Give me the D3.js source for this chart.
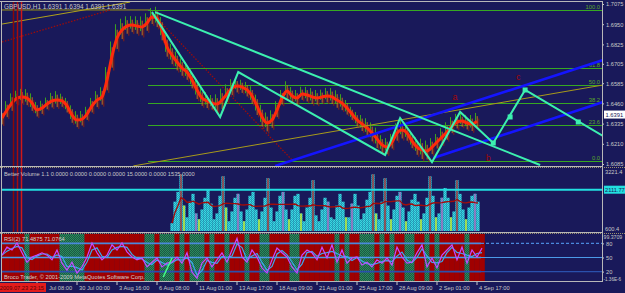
<!DOCTYPE html>
<html>
<head>
<meta charset="utf-8">
<script src="https://cdn.jsdelivr.net/npm/d3@7"></script>
<style>
  html, body { margin: 0; padding: 0; background: #19195a; overflow: hidden; }
  svg { display: block; }
  text { font-family: "Liberation Sans", Arial, sans-serif; }
</style>
</head>
<body>
<div id="d3-container"></div>
<script>
/**
 * CONSTANTS AND GLOBALS
 * */
const width = 625,
  height = 293,
  plotLeft = 2,
  plotRight = 602;

const panel = {
  price: { top: 2, bottom: 166 },
  volume: { top: 168, bottom: 232 },
  rsi: { top: 234, bottom: 281 },
};

/**
 * DATA (H1 bars, x is the bar index from the left edge)
 * */
// smoothed price (thick red line), one value every 8 bars
const maPrice = [
  1.6370, 1.6419, 1.6462, 1.6493, 1.6500, 1.6493, 1.6462, 1.6419, 1.6431, 1.6456,
  1.6475, 1.6481, 1.6475, 1.6444, 1.6388, 1.6357, 1.6363, 1.6394, 1.6444, 1.6481,
  1.6500, 1.6605, 1.6753, 1.6865, 1.6914, 1.6939, 1.6945, 1.6939, 1.6933, 1.6957,
  1.6995, 1.6988, 1.6914, 1.6809, 1.6759, 1.6716, 1.6679, 1.6654, 1.6605, 1.6543,
  1.6493, 1.6475, 1.6462, 1.6456, 1.6481, 1.6518, 1.6555, 1.6568, 1.6561, 1.6543,
  1.6506, 1.6444, 1.6376, 1.6339, 1.6357, 1.6419, 1.6493, 1.6537, 1.6506, 1.6493,
  1.6518, 1.6512, 1.6500, 1.6493, 1.6500, 1.6506, 1.6500, 1.6481, 1.6462, 1.6431,
  1.6394, 1.6357, 1.6333, 1.6308, 1.6277, 1.6240, 1.6203, 1.6190, 1.6221, 1.6277,
  1.6295, 1.6277, 1.6227, 1.6190, 1.6172, 1.6165, 1.6190, 1.6221, 1.6252, 1.6283,
  1.6320, 1.6345, 1.6351, 1.6339, 1.6333, 1.6351
];
// candle range around the smoothed price, in pips
const swingPips = [
  50, 55, 60, 45, 50, 55, 60, 50, 45, 40, 50, 55, 45, 50, 60, 55, 50, 45, 50, 55,
  60, 80, 90, 85, 70, 60, 55, 60, 65, 60, 55, 70, 80, 75, 70, 65, 60, 60, 65, 70,
  60, 55, 50, 60, 70, 60, 55, 50, 45, 50, 60, 70, 75, 65, 60, 55, 50, 60, 55, 50,
  45, 50, 55, 50, 45, 50, 55, 60, 55, 50, 45, 50, 55, 60, 65, 70, 60, 55, 50, 60,
  65, 60, 55, 60, 70, 65, 55, 50, 55, 60, 55, 50, 45, 50, 55, 50
];
const lastPrice = 1.6391;

// Better Volume, one value every 4.8 bars from bar 272
const volume = [
  400, 1500, 2000, 2900, 1300, 700, 1500, 1900, 900, 600,
  1100, 1700, 2100, 1400, 600, 900, 1800, 2800, 1200, 500,
  1000, 1700, 1900, 1000, 500, 1100, 1800, 2000, 1100, 600,
  1000, 1700, 2700, 1200, 500, 1000, 1800, 2000, 1100, 600,
  1100, 1800, 1900, 900, 500, 1200, 1700, 2600, 800, 500,
  1100, 1700, 1500, 700, 600, 1300, 1900, 1500, 700, 700,
  1400, 1900, 1300, 600, 900, 1600, 2000, 2900, 900, 600,
  1500, 2700, 1300, 600, 1100, 1800, 2000, 1200, 500, 1000,
  1600, 1900, 1500, 600, 900, 1700, 2800, 1800, 700, 900,
  1700, 2200, 1700, 700, 1000, 2600, 1900, 1100, 600, 1200,
  1800, 1900, 1500
];
const volStartBar = 272, volStepBars = 4.8;
const volYellow = [4, 9, 18, 24, 29, 39, 43, 58, 68, 73, 78, 83, 88, 93, 98];
const volRed = [3, 17, 32, 47, 67, 71, 86, 95];
const volMagenta = [8, 22, 37, 52, 60, 76, 90, 101];
const volLevel = 2111.77;

// RSI(2), one value every 8 bars
const rsi = [
  55, 72, 66, 81, 60, 40, 51, 55, 60, 55,
  45, 66, 38, 23, 40, 17, 30, 51, 81, 60,
  45, 55, 77, 66, 81, 62, 51, 45, 49, 30,
  40, 49, 30, 38, 40, 51, 38, 60, 19, 6,
  38, 49, 30, 45, 60, 40, 66, 91, 51, 40,
  66, 51, 28, 17, 45, 70, 60, 51, 30, 17,
  55, 66, 60, 45, 72, 49, 77, 40, 66, 38,
  49, 51, 34, 40, 30, 45, 38, 49, 34, 72,
  51, 38, 40, 60, 77, 30, 49, 28, 55, 66,
  77, 45, 72, 38, 66, 51, 70
];
const rsiLevels = [80, 50, 20];

// axis ticks
const priceTicks = [1.7075, 1.6950, 1.6825, 1.6705, 1.6585, 1.6460, 1.6335, 1.6210, 1.6085];
const tickBars = [56, 120, 184, 248, 312, 376, 440, 504, 568, 632, 696, 760];
const tickLabels = ["Jul 08:00", "30 Jul 00:00", "3 Aug 16:00", "6 Aug 08:00", "11 Aug 01:00",
  "13 Aug 17:00", "18 Aug 09:00", "21 Aug 01:00", "25 Aug 17:00", "28 Aug 09:00", "2 Sep 01:00", "4 Sep 17:00"];

// fibonacci retracement
const fibLevels = [100, 61.8, 50, 38.2, 23.6, 0];
const fibLabels = ["100.0", "61.8", "50.0", "38.2", "23.6", "0.0"];
const fibLow = 1.6104, fibHigh = 1.7038, fibStartBar = 234;

// drawn objects: [bar, price]
const zigzag = [[240, 1.7025], [349, 1.6376], [378, 1.6654], [613, 1.6141], [637, 1.6370],
  [688, 1.6097], [733, 1.6407], [786, 1.6215], [837, 1.6543], [962, 1.6258]];
const zigNodes = [[786, 1.6215], [813, 1.6376], [837, 1.6543], [922, 1.6345]];
const trendLine = [[245, 1.7025], [861, 1.6079]];
const blueUpper = [[437, 1.6073], [962, 1.6728]];
const blueLower = [[690, 1.6122], [962, 1.6469]];
const yellowLine = [[210, 1.6073], [962, 1.6574]];
const yellowTop = [[0, 1.7038], [237, 1.7038]];
const yellowDiag = [[0, 1.6951], [205, 1.7087]];
const dotLineA = [[0, 1.6840], [173, 1.7038]];
const dotLineB = [[240, 1.7019], [464, 1.6110]];
const waveMarks = [
  { label: "a", bar: 725, price: 1.6481 },
  { label: "b", bar: 778, price: 1.6104 },
  { label: "c", bar: 826, price: 1.6605 },
];
const markerBars = [18, 24, 30];
const rsiTrend = [[258, 8.5], [272, 49]];

/**
 * SCALES
 * */
const xScale = d3.scaleLinear().domain([0, 64]).range([plotLeft, plotLeft + 40]);
const yPrice = d3.scaleLinear().domain([1.6085, 1.7075]).range([164, 4]);
const yVol = d3.scaleLinear().domain([0, 3221.4]).range([231, 168]);
const yRsi = d3.scaleLinear().domain([0, 100]).range([281, 234]);

let svg;

function lineGen(xs, ys) {
  return d3.line().x(d => xs(d[0])).y(d => ys(d[1]));
}

function init() {
  svg = d3.select("#d3-container")
    .append("svg")
    .attr("width", width)
    .attr("height", height);

  svg.append("rect").attr("width", width).attr("height", height).attr("fill", "#19195a");

  const defs = svg.append("defs");
  Object.entries(panel).forEach(([k, p]) => {
    defs.append("clipPath").attr("id", "clip-" + k)
      .append("rect")
      .attr("x", plotLeft).attr("y", p.top)
      .attr("width", plotRight - plotLeft).attr("height", p.bottom - p.top);
  });
  const pat = defs.append("pattern").attr("id", "greenDither")
    .attr("width", 2).attr("height", 2).attr("patternUnits", "userSpaceOnUse");
  pat.append("rect").attr("width", 2).attr("height", 2).attr("fill", "#1b5a44");
  pat.append("rect").attr("width", 1).attr("height", 1).attr("fill", "#2c8c5c");
  pat.append("rect").attr("x", 1).attr("y", 1).attr("width", 1).attr("height", 1).attr("fill", "#2c8c5c");
  const vpat = defs.append("pattern").attr("id", "cyanDither")
    .attr("width", 2).attr("height", 2).attr("patternUnits", "userSpaceOnUse");
  vpat.append("rect").attr("width", 2).attr("height", 2).attr("fill", "#1fa6c0");
  vpat.append("rect").attr("width", 1).attr("height", 1).attr("fill", "#3fd8e0");
  vpat.append("rect").attr("x", 1).attr("y", 1).attr("width", 1).attr("height", 1).attr("fill", "#3fd8e0");

  drawPrice();
  drawVolume();
  drawRsi();
  drawFrame();
}

/**
 * PRICE PANEL
 * */
function drawPrice() {
  const g = svg.append("g").attr("clip-path", "url(#clip-price)");
  const pl = lineGen(xScale, yPrice);

  // old objects on the left
  g.append("path").attr("d", pl(yellowTop)).attr("stroke", "#9c9614").attr("fill", "none");
  g.append("path").attr("d", pl(yellowDiag)).attr("stroke", "#b0a21c").attr("fill", "none");
  [dotLineA, dotLineB].forEach(l => {
    g.append("path").attr("d", pl(l)).attr("stroke", "#9a0c0c")
      .attr("stroke-dasharray", "1.5,1.5").attr("stroke-width", 1.3).attr("fill", "none");
  });

  // fibonacci
  const fibPrice = lv => fibLow + (fibHigh - fibLow) * lv / 100;
  g.selectAll("line.fib")
    .data(fibLevels)
    .join("line")
    .attr("class", "fib")
    .attr("x1", xScale(fibStartBar)).attr("x2", plotRight)
    .attr("y1", d => Math.round(yPrice(fibPrice(d))) + 0.5)
    .attr("y2", d => Math.round(yPrice(fibPrice(d))) + 0.5)
    .attr("shape-rendering", "crispEdges")
    .attr("stroke", "#36a822");
  g.selectAll("text.fib")
    .data(fibLevels)
    .join("text")
    .attr("class", "fib")
    .attr("x", plotRight - 2)
    .attr("y", d => yPrice(fibPrice(d)) - 1)
    .attr("text-anchor", "end")
    .attr("font-size", 5.8)
    .attr("fill", "#5aa82a")
    .text((d, i) => fibLabels[i]);

  // candles around the smoothed price
  const cg = g.append("g");
  maPrice.forEach((p, k) => {
    const xc = xScale(8 * k), s = swingPips[k] / 10000;
    cg.append("line").attr("x1", xc - 1.5).attr("x2", xc - 1.5)
      .attr("y1", yPrice(p + s)).attr("y2", yPrice(p - s * 0.4))
      .attr("stroke", "#3aa01e").attr("stroke-width", 1);
    cg.append("line").attr("x1", xc + 0.2).attr("x2", xc + 0.2)
      .attr("y1", yPrice(p + s * 0.6)).attr("y2", yPrice(p - s * 0.8))
      .attr("stroke", "#c87018").attr("stroke-width", 1);
    cg.append("line").attr("x1", xc + 1.8).attr("x2", xc + 1.8)
      .attr("y1", yPrice(p + s * 0.3)).attr("y2", yPrice(p - s))
      .attr("stroke", "#8a2010").attr("stroke-width", 1);
  });

  g.append("path")
    .datum(maPrice.map((p, k) => [8 * k, p]))
    .attr("d", lineGen(xScale, yPrice).curve(d3.curveMonotoneX))
    .attr("stroke", "#ff2a0c").attr("stroke-width", 3).attr("fill", "none");

  // channel and trend lines
  g.append("path").attr("d", pl(yellowLine)).attr("stroke", "#a89a1a").attr("fill", "none");
  [blueUpper, blueLower].forEach(l => {
    g.append("path").attr("d", pl(l)).attr("stroke", "#1414ff").attr("stroke-width", 2.6).attr("fill", "none");
  });
  g.append("path").attr("d", pl(trendLine)).attr("stroke", "#3cf0b0").attr("stroke-width", 2).attr("fill", "none");
  g.append("path").attr("d", pl(zigzag)).attr("stroke", "#3cf0b0").attr("stroke-width", 2)
    .attr("stroke-linejoin", "miter").attr("fill", "none");
  g.selectAll("rect.node")
    .data(zigNodes)
    .join("rect")
    .attr("class", "node")
    .attr("x", d => xScale(d[0]) - 2.5).attr("y", d => yPrice(d[1]) - 2.5)
    .attr("width", 5).attr("height", 5)
    .attr("fill", "#3cf0b0");

  g.selectAll("text.wave")
    .data(waveMarks)
    .join("text")
    .attr("class", "wave")
    .attr("x", d => xScale(d.bar)).attr("y", d => yPrice(d.price))
    .attr("text-anchor", "middle")
    .attr("font-size", 9)
    .attr("fill", "#a00808")
    .text(d => d.label);

  // vertical markers through price and volume
  svg.selectAll("line.marker")
    .data(markerBars)
    .join("line")
    .attr("class", "marker")
    .attr("x1", d => Math.round(xScale(d)) + 0.5).attr("x2", d => Math.round(xScale(d)) + 0.5)
    .attr("y1", panel.price.top).attr("y2", panel.volume.bottom)
    .attr("stroke-width", 1.5)
    .attr("stroke", (d, i) => i === 0 ? "#8a0808" : (i === 1 ? "#a80c0c" : "#d01818"));

  svg.append("text")
    .attr("x", 4).attr("y", 9)
    .attr("font-size", 6.4)
    .attr("fill", "#c8c8c8")
    .text("GBPUSD,H1  1.6391 1.6394 1.6391 1.6391");

  // right price axis
  const ax = svg.append("g")
    .attr("transform", `translate(${plotRight},0)`)
    .call(d3.axisRight(yPrice).tickValues(priceTicks).tickFormat(d3.format(".4f")).tickSize(2));
  styleAxis(ax);

  const yb = yPrice(lastPrice);
  svg.append("rect").attr("x", 604).attr("y", yb - 4).attr("width", 21).attr("height", 8)
    .attr("fill", "#ffffff");
  svg.append("text").attr("x", 605.5).attr("y", yb + 2.2)
    .attr("font-size", 5.8).attr("fill", "#19195a").text(lastPrice.toFixed(4));
}

/**
 * VOLUME PANEL
 * */
function drawVolume() {
  const g = svg.append("g").attr("clip-path", "url(#clip-volume)");
  const vx = k => xScale(volStartBar + volStepBars * k);

  g.selectAll("rect.vol")
    .data(volume)
    .join("rect")
    .attr("class", "vol")
    .attr("x", (d, k) => vx(k) - 1.6)
    .attr("y", d => yVol(d))
    .attr("width", 3.2)
    .attr("height", d => yVol(0) - yVol(d))
    .attr("fill", "url(#cyanDither)");

  const overlay = (idx, color) => {
    g.selectAll(null)
      .data(idx)
      .join("line")
      .attr("x1", k => vx(k)).attr("x2", k => vx(k))
      .attr("y1", k => yVol(volume[k])).attr("y2", yVol(0))
      .attr("stroke", color).attr("stroke-width", 1.2);
  };
  overlay(volYellow, "#e8f000");
  overlay(volMagenta, "#c050b8");
  overlay(volRed, "#c00c0c");

  // rolling average of the volume
  const avg = volume.map((v, k) => [k, d3.mean(volume.slice(Math.max(0, k - 9), k + 1))]);
  g.append("path")
    .datum(avg)
    .attr("d", d3.line().x(d => vx(d[0])).y(d => yVol(d[1])))
    .attr("stroke", "#a00c0c").attr("stroke-width", 1.4).attr("fill", "none");

  g.append("line")
    .attr("x1", plotLeft).attr("x2", plotRight)
    .attr("y1", yVol(volLevel)).attr("y2", yVol(volLevel))
    .attr("stroke", "#22e0e0").attr("stroke-width", 2);

  svg.append("text").attr("x", 4).attr("y", 176)
    .attr("font-size", 5.7).attr("fill", "#c8c8c8")
    .text("Better Volume 1.1 0.0000 0.0000 0.0000 0.0000 15.0000 0.0000 1535.0000");

  svg.append("text").attr("x", 605).attr("y", panel.volume.top + 6)
    .attr("font-size", 5.7).attr("fill", "#c8c8c8").text("3221.4");
  svg.append("text").attr("x", 605).attr("y", panel.volume.bottom - 1)
    .attr("font-size", 5.7).attr("fill", "#c8c8c8").text("600.4");
  const yl = yVol(volLevel);
  svg.append("rect").attr("x", 604).attr("y", yl - 4).attr("width", 21).attr("height", 8)
    .attr("fill", "#22e0e0");
  svg.append("text").attr("x", 605).attr("y", yl + 2.2)
    .attr("font-size", 5.7).attr("fill", "#19195a").text(volLevel.toFixed(2));
}

/**
 * RSI PANEL
 * */
function drawRsi() {
  const g = svg.append("g").attr("clip-path", "url(#clip-rsi)");
  const rsiEnd = xScale(8 * (rsi.length - 1)) - 1;

  g.selectAll("rect.stripe")
    .data(rsi)
    .join("rect")
    .attr("class", "stripe")
    .attr("x", (d, k) => xScale(8 * k - 4))
    .attr("y", panel.rsi.top)
    .attr("width", xScale(8) - xScale(0) + 0.3)
    .attr("height", panel.rsi.bottom - panel.rsi.top)
    .attr("fill", d => d >= 44 ? "#a00000" : "url(#greenDither)");

  const lvColor = { 80: "#4a88dc", 50: "#4c9ae8", 20: "#2a50ac" };
  rsiLevels.forEach(lv => {
    g.append("line").attr("x1", plotLeft).attr("x2", rsiEnd)
      .attr("y1", yRsi(lv)).attr("y2", yRsi(lv))
      .attr("stroke", lvColor[lv]).attr("stroke-width", 1.6);
    g.append("line").attr("x1", rsiEnd).attr("x2", plotRight)
      .attr("y1", yRsi(lv)).attr("y2", yRsi(lv))
      .attr("stroke", lvColor[lv]).attr("stroke-width", 1.2)
      .attr("stroke-dasharray", lv === 80 ? "3,2" : null);
  });

  const signal = rsi.map((v, k) => [8 * k, k === 0 ? v : (v + rsi[k - 1]) / 2]);
  g.append("path").datum(signal)
    .attr("d", lineGen(xScale, yRsi))
    .attr("stroke", "#3aa8ee").attr("stroke-width", 1.2).attr("fill", "none");
  g.append("path").datum(rsi.map((v, k) => [8 * k, v]))
    .attr("d", lineGen(xScale, yRsi))
    .attr("stroke", "#c24cff").attr("stroke-width", 1.2).attr("fill", "none");
  g.append("path").attr("d", lineGen(xScale, yRsi)(rsiTrend))
    .attr("stroke", "#44ff88").attr("stroke-width", 1.5).attr("fill", "none");

  svg.append("text").attr("x", 4).attr("y", 241)
    .attr("font-size", 5.7).attr("fill", "#d0d0d0").text("RSI(2) 71.4875 71.0764");
  svg.append("text").attr("x", 4).attr("y", 279)
    .attr("font-size", 5.7).attr("fill", "#d0d0d0")
    .text("Broco Trader, © 2001-2009 MetaQuotes Software Corp.");

  const ax = svg.append("g")
    .attr("transform", `translate(${plotRight},0)`)
    .call(d3.axisRight(yRsi).tickValues(rsiLevels).tickSize(2));
  styleAxis(ax);
  svg.append("text").attr("x", 603.5).attr("y", panel.rsi.top + 5)
    .attr("font-size", 5.2).attr("fill", "#c8c8c8").text("99.3709");
  svg.append("text").attr("x", 603.5).attr("y", panel.rsi.bottom)
    .attr("font-size", 4.6).attr("fill", "#c8c8c8").text("-1.36E-6");
}

/**
 * FRAME, SEPARATORS, TIME AXIS
 * */
function drawFrame() {
  const sepColor = "#b8b8b8";
  [1.5, 166.5, 232.5, 281.5].forEach(y => {
    svg.append("line").attr("x1", 0).attr("x2", plotRight).attr("y1", y).attr("y2", y)
      .attr("stroke", sepColor);
  });
  [167.5, 233.5].forEach(y => {
    svg.append("line").attr("x1", 0).attr("x2", width).attr("y1", y).attr("y2", y)
      .attr("stroke", "#9a9070").attr("stroke-dasharray", "1,1");
  });
  svg.append("line").attr("x1", 1.5).attr("x2", 1.5).attr("y1", 1).attr("y2", 282).attr("stroke", sepColor);
  svg.append("line").attr("x1", plotRight + 0.5).attr("x2", plotRight + 0.5)
    .attr("y1", 1).attr("y2", 282).attr("stroke", sepColor);

  const tg = svg.append("g");
  tg.selectAll("line")
    .data(tickBars)
    .join("line")
    .attr("x1", d => xScale(d)).attr("x2", d => xScale(d))
    .attr("y1", 282).attr("y2", 285)
    .attr("stroke", "#c8c8c8");
  // the first label is partly hidden behind the red time box, only its tail shows
  tg.selectAll("text")
    .data(tickBars)
    .join("text")
    .attr("x", (d, i) => i === 0 ? 49 : xScale(d) + 2)
    .attr("y", 290)
    .attr("font-size", 5.7)
    .attr("fill", "#c8c8c8")
    .text((d, i) => tickLabels[i]);

  svg.append("rect").attr("x", 0).attr("y", 283).attr("width", 46).attr("height", 9).attr("fill", "#e41c1c");
  svg.append("text").attr("x", 44).attr("y", 290).attr("text-anchor", "end")
    .attr("font-size", 5.7).attr("fill", "#5a0000").text("2009.07.23 23:15");
}

function styleAxis(ax) {
  ax.select(".domain").remove();
  ax.selectAll(".tick line").attr("stroke", "#c8c8c8");
  ax.selectAll(".tick text")
    .attr("x", 4)
    .attr("font-size", 5.7)
    .attr("font-family", "Liberation Sans, Arial, sans-serif")
    .attr("fill", "#c8c8c8");
}

init();
</script>
</body>
</html>
